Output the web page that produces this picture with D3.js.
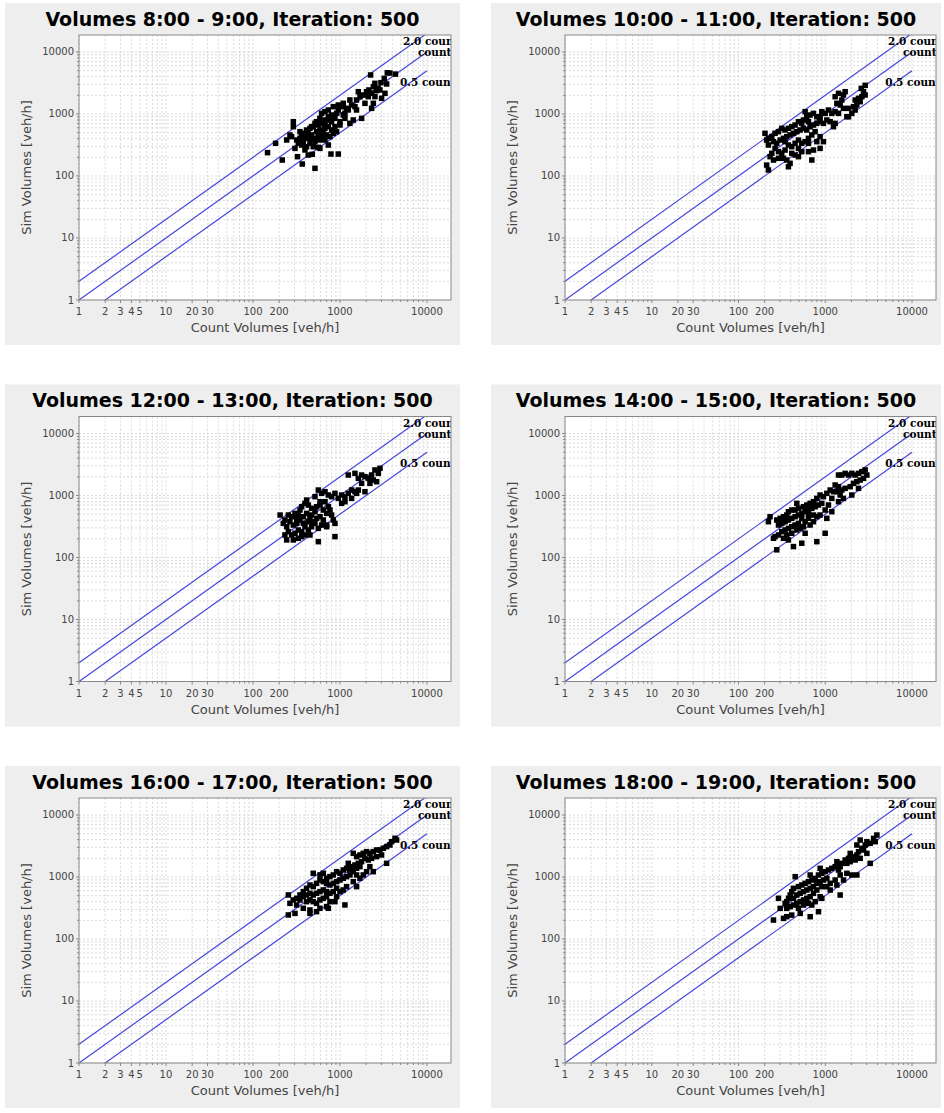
<!DOCTYPE html>
<html>
<head>
<meta charset="utf-8">
<script src="https://cdn.jsdelivr.net/npm/d3@7"></script>
<style>
body { margin: 0; background: #fff; }
svg { display: block; }
</style>
</head>
<body>
<svg id="chart" width="944" height="1113"></svg>
<script>
// panel titles, one per hour slot
const titles = [
    "Volumes 8:00 - 9:00, Iteration: 500",
    "Volumes 10:00 - 11:00, Iteration: 500",
    "Volumes 12:00 - 13:00, Iteration: 500",
    "Volumes 14:00 - 15:00, Iteration: 500",
    "Volumes 16:00 - 17:00, Iteration: 500",
    "Volumes 18:00 - 19:00, Iteration: 500"
];

const countTickLabels = [1, 2, 3, 4, 5, 10, 20, 30, 100, 200, 1000, 10000];
const simTickLabels = [1, 10, 100, 1000, 10000];

// reference lines sim = factor * count
const lineFactors = [2, 1, 0.5];
const lineLabels = ["2.0 count", "count", "0.5 count"];
// label anchors (count, sim) for the text next to each line
const labelAnchors = [[5300, 12970], [7880, 8600], [4900, 2830]];

// [count volume, sim volume] per link
const vol0800 = [[2250,4260],[3500,4620],[3750,4580],[4350,4400],[3230,3760],[2960,3200],[2520,3125],[2420,2760],[2150,2440],[2020,2290],[2310,2155],[2640,2380],[2760,2595],[3440,3050],[3290,2155],[3010,1790],[2420,1487],[2310,1234],[1774,851],[1624,2290],[1550,1683],[1700,1905],[1855,2025],[1938,1487],[1487,1313],[1361,1397],[1300,1683],[1247,1161],[1141,1025],[1092,1487],[1045,1313],[957,1161],[915,1025],[838,1313],[802,964],[734,1161],[672,1091],[615,1025],[588,851],[672,800],[767,800],[875,851],[1000,752],[1141,851],[1300,707],[1423,800],[1550,1161],[1000,665],[875,625],[802,552],[734,625],[672,665],[615,707],[563,665],[516,707],[493,625],[452,587],[413,552],[396,488],[362,459],[347,405],[318,381],[379,358],[432,405],[472,459],[539,519],[588,552],[643,519],[703,459],[767,431],[838,488],[915,519],[672,381],[588,381],[516,358],[452,337],[413,297],[362,316],[332,337],[304,279],[396,263],[493,297],[563,290],[291,752],[291,625],[266,459],[244,381],[182,337],[147,238],[217,181],[325,205],[369,156],[432,218],[481,224],[588,279],[788,226],[957,226],[516,133],[643,431],[734,316],[278,431],[347,519],[472,625],[539,752],[432,488],[379,431],[563,431],[615,459],[493,405],[672,587],[802,752],[1092,964],[1190,1234],[957,1397],[734,906],[2116,1905],[2524,1905],[2880,2440]];

const vol1000 = [[2600,2590],[2760,2290],[2884,2025],[2642,1901],[2415,1790],[2213,1679],[2310,1396],[2115,1312],[2023,1024],[2525,1580],[1695,2290],[1620,2025],[1421,2153],[1300,1901],[1360,1486],[1485,1396],[1620,1233],[1421,1024],[1773,905],[1300,1090],[1190,1024],[1089,1159],[997,1024],[912,1090],[872,905],[799,905],[731,1024],[669,963],[586,1090],[612,905],[640,752],[561,800],[536,706],[491,752],[449,664],[411,624],[376,587],[344,552],[315,587],[289,519],[264,488],[242,431],[221,405],[202,488],[211,380],[253,358],[276,337],[302,380],[330,405],[360,431],[393,459],[430,488],[470,519],[513,552],[561,587],[612,552],[669,624],[731,664],[799,706],[872,752],[953,706],[1042,800],[1138,752],[1244,624],[764,519],[700,459],[640,405],[586,358],[536,337],[491,380],[449,337],[411,297],[376,316],[344,262],[315,232],[289,247],[264,279],[242,232],[231,205],[253,181],[289,193],[330,193],[360,181],[393,160],[376,141],[449,218],[491,279],[536,247],[640,247],[731,262],[872,279],[953,358],[799,358],[872,431],[640,337],[221,125],[700,181],[491,205],[1300,706],[1854,905],[2213,1159],[1854,1233],[1552,1679],[2884,2900],[221,316],[411,232],[344,358],[211,150]];

const vol1200 = [[2524,2580],[2758,2275],[2311,2138],[2116,1890],[1938,2010],[1774,2138],[1625,1890],[1487,2275],[1247,2138],[2415,1775],[2640,1670],[2211,1570],[1938,1152],[1625,1225],[1487,1152],[1362,1225],[1247,1083],[1142,957],[1045,1018],[957,899],[876,1083],[802,957],[735,1018],[673,1152],[615,1083],[564,1225],[516,957],[590,794],[673,794],[735,660],[768,583],[802,484],[838,402],[876,355],[703,515],[643,583],[590,702],[540,660],[516,548],[472,620],[433,702],[396,747],[363,660],[347,583],[332,484],[304,515],[278,455],[255,484],[233,402],[205,484],[223,355],[244,314],[266,378],[291,334],[318,355],[347,402],[380,455],[414,515],[452,428],[494,378],[540,428],[590,455],[643,402],[703,314],[615,334],[564,295],[516,355],[472,314],[433,278],[396,314],[363,261],[332,278],[304,246],[278,231],[255,261],[233,231],[244,192],[291,192],[332,204],[363,217],[396,231],[452,231],[564,180],[876,217],[703,334],[414,845],[1045,747],[1142,794],[1362,899],[1555,1083],[1774,1570],[2885,2742],[433,378],[318,428],[380,355],[472,484]];

const vol1400 = [[2884,2580],[2642,2421],[2415,2275],[2213,2138],[2023,2275],[1854,2138],[1695,2275],[1552,2138],[1421,2138],[3015,2138],[2760,1890],[2525,1775],[2310,1670],[2115,1570],[1937,1387],[1695,1304],[1552,1225],[1421,1387],[1300,1476],[1360,1152],[1485,1018],[1620,899],[1244,1152],[1138,1225],[1042,1083],[953,957],[872,1018],[799,899],[731,794],[669,747],[612,702],[561,660],[470,747],[491,620],[449,583],[411,583],[376,548],[360,484],[330,455],[302,428],[276,402],[231,455],[221,378],[289,334],[315,355],[344,378],[376,402],[411,428],[449,455],[491,484],[536,515],[586,548],[640,583],[700,620],[764,660],[835,702],[912,747],[731,484],[640,428],[586,378],[536,428],[491,355],[449,334],[411,314],[376,295],[344,278],[315,261],[289,231],[264,217],[360,231],[411,246],[470,278],[513,295],[561,314],[669,334],[799,455],[872,484],[997,583],[1042,428],[1089,702],[1190,899],[997,246],[799,180],[276,133],[430,150],[536,170],[253,204],[330,204],[376,192],[586,246],[731,378],[640,515],[1190,548],[1421,794],[2415,1304],[2023,1018]];

const vol1600 = [[4290,4207],[4477,3950],[3920,3715],[3750,3281],[3436,3090],[3148,2904],[2877,2730],[2636,2730],[2415,2564],[2208,2410],[2023,2564],[1853,2410],[1696,2265],[1553,2130],[1422,2410],[3010,2265],[2636,2130],[2310,2000],[2115,1880],[1935,2000],[1773,1770],[1623,1663],[1486,1563],[1360,1469],[1245,1663],[1192,1380],[1303,1297],[1422,1219],[1553,1380],[1696,1469],[2208,1469],[2415,1219],[2023,1219],[1853,1079],[1696,953],[1553,1079],[3436,1663],[1091,1297],[1000,1147],[915,1219],[838,1079],[767,1014],[702,953],[643,841],[589,895],[538,790],[493,699],[452,743],[413,658],[379,581],[347,513],[318,453],[290,426],[255,513],[266,376],[493,1147],[589,1079],[643,1147],[702,790],[767,743],[838,790],[915,841],[1000,895],[1091,953],[1192,1014],[1303,1079],[1422,841],[1553,699],[1192,699],[1091,618],[1000,581],[915,658],[838,581],[767,546],[702,581],[643,618],[589,581],[538,546],[493,513],[452,546],[413,513],[379,482],[347,426],[413,400],[452,426],[493,400],[538,376],[589,426],[643,453],[702,482],[767,400],[915,482],[876,400],[1140,354],[702,333],[589,313],[538,276],[452,294],[379,313],[318,354],[304,259],[255,244],[452,259],[734,313]];

const vol1800 = [[3936,4750],[3606,4200],[3770,3710],[3296,3491],[3018,3710],[2885,3280],[2640,2900],[2417,2560],[2761,2723],[2312,2262],[2118,2128],[2527,2000],[1938,2404],[1855,2000],[1938,1766],[1697,1879],[1553,1660],[1486,1466],[1361,1766],[1301,1466],[1191,1380],[1421,1297],[1090,1297],[998,1220],[913,1146],[835,1077],[873,1380],[670,1077],[765,951],[700,893],[641,840],[586,791],[537,743],[491,698],[450,1012],[430,656],[411,580],[394,512],[377,453],[360,400],[345,376],[430,453],[470,512],[514,545],[561,580],[613,617],[670,656],[731,698],[800,791],[873,840],[955,893],[1043,951],[1140,791],[1301,893],[1486,1077],[1774,1146],[2026,1077],[2312,1077],[3296,1660],[1624,893],[1361,743],[1140,617],[1043,698],[913,698],[800,617],[731,545],[670,481],[613,453],[561,426],[514,400],[470,376],[430,353],[394,332],[360,312],[491,312],[561,353],[641,376],[700,353],[765,400],[873,481],[835,276],[670,229],[514,259],[411,243],[360,229],[330,215],[289,453],[302,312],[253,202],[913,453],[1486,512],[1774,1660],[2213,1879],[3018,2404],[2527,3945],[2312,3280]];

const panelData = [vol0800, vol1000, vol1200, vol1400, vol1600, vol1800];

// layout
const cols = [
    {bgX: 5, bgW: 455, plotX: 79, plotW: 372},
    {bgX: 491, bgW: 450, plotX: 565, plotW: 371}
];
const rowOffsets = [0, 381.5, 763];
const bgTop = 3, bgH = 342, plotTop = 35, plotH = 265;

const svg = d3.select("#chart");

titles.forEach((title, i) => {
    var col = cols[i % 2];
    var off = rowOffsets[Math.floor(i / 2)];
    var data = panelData[i];

    var x = d3.scaleLog().domain([1, 18900]).range([0, col.plotW]);
    var y = d3.scaleLog().domain([1, 18800]).range([plotH, 0]);

    var panel = svg.append("g");

    panel.append("rect")
            .attr("x", col.bgX)
            .attr("y", off + bgTop)
            .attr("width", col.bgW)
            .attr("height", bgH)
            .attr("fill", "#eeeeee");

    panel.append("text")
            .attr("x", col.bgX + col.bgW / 2)
            .attr("y", off + 25.5)
            .attr("text-anchor", "middle")
            .style("font-family", "'DejaVu Sans', sans-serif")
            .style("font-weight", "bold")
            .style("font-size", "19px")
            .attr("fill", "#000")
            .text(title);

    var g = panel.append("g")
            .attr("transform", "translate(" + col.plotX + "," + (off + plotTop) + ")");

    var clipId = "clip" + i;
    g.append("clipPath").attr("id", clipId)
            .append("rect")
            .attr("width", col.plotW)
            .attr("height", plotH);

    g.append("rect")
            .attr("width", col.plotW)
            .attr("height", plotH)
            .attr("fill", "#fff");

    // grid, one line per log tick
    var gridX = x.ticks().filter((v) => v <= 10000);
    var gridY = y.ticks().filter((v) => v <= 10000);
    g.selectAll(".gx").data(gridX).enter().append("line")
            .attr("x1", (d) => x(d)).attr("x2", (d) => x(d))
            .attr("y1", 0).attr("y2", plotH)
            .attr("stroke", "#d2d2d2")
            .attr("stroke-dasharray", "2,2")
            .attr("stroke-width", 0.8);
    g.selectAll(".gy").data(gridY).enter().append("line")
            .attr("y1", (d) => y(d)).attr("y2", (d) => y(d))
            .attr("x1", 0).attr("x2", col.plotW)
            .attr("stroke", "#d2d2d2")
            .attr("stroke-dasharray", "2,2")
            .attr("stroke-width", 0.8);

    // tick marks
    g.selectAll(".tx").data(gridX).enter().append("line")
            .attr("x1", (d) => x(d)).attr("x2", (d) => x(d))
            .attr("y1", plotH).attr("y2", (d) => plotH + (countTickLabels.includes(d) ? 3 : 2))
            .attr("stroke", "#888");
    g.selectAll(".ty").data(gridY).enter().append("line")
            .attr("y1", (d) => y(d)).attr("y2", (d) => y(d))
            .attr("x1", 0).attr("x2", (d) => simTickLabels.includes(d) ? -3 : -2)
            .attr("stroke", "#888");

    // tick labels
    g.selectAll(".lx").data(countTickLabels).enter().append("text")
            .attr("x", (d) => x(d))
            .attr("y", plotH + 15)
            .attr("text-anchor", "middle")
            .style("font-family", "'DejaVu Sans', sans-serif")
            .style("font-size", "10px")
            .attr("fill", "#444")
            .text((d) => d);
    g.selectAll(".ly").data(simTickLabels).enter().append("text")
            .attr("x", -5)
            .attr("y", (d) => y(d) + 3.5)
            .attr("text-anchor", "end")
            .style("font-family", "'DejaVu Sans', sans-serif")
            .style("font-size", "10px")
            .attr("fill", "#444")
            .text((d) => d);

    // reference lines and their labels
    var inner = g.append("g").attr("clip-path", "url(#" + clipId + ")");
    inner.selectAll(".ref").data(lineFactors).enter().append("line")
            .attr("x1", x(1)).attr("y1", (f) => y(f))
            .attr("x2", x(10000)).attr("y2", (f) => y(10000 * f))
            .attr("stroke", "#4646dc")
            .attr("stroke-width", 1.2);
    inner.selectAll(".reflabel").data(lineLabels).enter().append("text")
            .attr("x", (d, k) => x(labelAnchors[k][0]))
            .attr("y", (d, k) => y(labelAnchors[k][1]))
            .style("font-family", "'DejaVu Serif', serif")
            .style("font-weight", "bold")
            .style("font-size", "10.5px")
            .attr("fill", "#000")
            .text((d) => d);

    // points
    inner.selectAll(".pt").data(data).enter().append("rect")
            .attr("x", (d) => x(d[0]) - 2.75)
            .attr("y", (d) => y(d[1]) - 2.75)
            .attr("width", 5.5)
            .attr("height", 5.5)
            .attr("fill", "#000");

    g.append("rect")
            .attr("width", col.plotW)
            .attr("height", plotH)
            .attr("fill", "none")
            .attr("stroke", "#888");

    // axis titles
    g.append("text")
            .attr("x", col.plotW / 2)
            .attr("y", plotH + 32)
            .attr("text-anchor", "middle")
            .style("font-family", "'DejaVu Sans', sans-serif")
            .style("font-size", "13px")
            .attr("fill", "#444")
            .text("Count Volumes [veh/h]");
    panel.append("text")
            .attr("transform", "translate(" + (col.bgX + 26) + "," + (off + plotTop + plotH / 2) + ") rotate(-90)")
            .attr("text-anchor", "middle")
            .style("font-family", "'DejaVu Sans', sans-serif")
            .style("font-size", "13px")
            .attr("fill", "#444")
            .text("Sim Volumes [veh/h]");
});
</script>
</body>
</html>
